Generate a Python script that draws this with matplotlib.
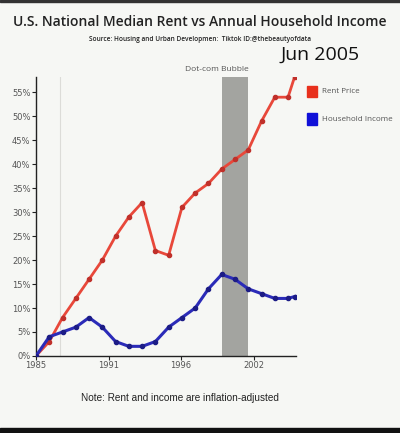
import matplotlib
matplotlib.use("Agg")
import matplotlib.pyplot as plt
from matplotlib.ticker import PercentFormatter

# DATOS
years = [1985, 1986, 1987, 1988, 1989, 1990, 1991, 1992, 1993, 1994,
         1995, 1996, 1997, 1998, 1999, 2000, 2001, 2002, 2003, 2004, 2004.5]
rent = [0, 3, 8, 12, 16, 20, 25, 29, 32, 22,
        21, 31, 34, 36, 39, 41, 43, 49, 54, 54, 58.3]
income = [0, 4, 5, 6, 8, 6, 3, 2, 2, 3,
          6, 8, 10, 14, 17, 16, 14, 13, 12, 12, 12.4]

tick_pos = [1985, 1990.5, 1995.9, 2001.4]
tick_labels = ["1985", "1991", "1996", "2002"]
bubble_start, bubble_end = 1999, 2001

bg = "#f6f7f4"
red_line, red_dot = "#e8483a", "#c0302a"
blue_line, blue_dot = "#2b2bb8", "#1c1c86"

fig = plt.figure(figsize=(4, 4.33), dpi=100, facecolor=bg)
ax = fig.add_axes([0.09, 0.178, 0.65, 0.644], facecolor=bg)

# franja gris de la burbuja
ax.axvspan(bubble_start, bubble_end, color="#a3a4a0", lw=0, zorder=1)
ax.axvline(1986.8, color="#dcdcd8", lw=0.8, zorder=0)

ax.plot(years, rent, color=red_line, lw=2, marker="o", ms=3,
        mfc=red_dot, mec=red_dot, zorder=3)
ax.plot(years, income, color=blue_line, lw=2.2, marker="o", ms=3,
        mfc=blue_dot, mec=blue_dot, zorder=3)

ax.set_xlim(1985, 2004.6)
ax.set_ylim(0, 58.2)
ax.set_yticks(range(0, 56, 5))
ax.yaxis.set_major_formatter(PercentFormatter(decimals=0))
ax.set_xticks(tick_pos)
ax.set_xticklabels(tick_labels)
ax.tick_params(labelsize=6, labelcolor="#555555", length=3, width=0.8,
               color="#222222", pad=1)
for s in ["top", "right"]:
    ax.spines[s].set_visible(False)
for s in ["left", "bottom"]:
    ax.spines[s].set_color("#222222")
    ax.spines[s].set_linewidth(1)

ax.text(1998.6, 59, "Dot-com Bubble",
        ha="center", va="bottom", fontsize=6, color="#555555",
        family="Open Sans")

# leyenda manual
fig.patches.append(plt.Rectangle((0.768, 0.776), 0.024, 0.026, color="#e8301c",
                                 transform=fig.transFigure))
fig.patches.append(plt.Rectangle((0.768, 0.712), 0.024, 0.026, color="#1010d8",
                                 transform=fig.transFigure))
fig.text(0.805, 0.789, "Rent Price", fontsize=5.8, color="#555555",
         va="center", family="Open Sans")
fig.text(0.805, 0.725, "Household Income", fontsize=5.8, color="#555555",
         va="center", family="Open Sans")

# titulos
fig.text(0.5, 0.95, "U.S. National Median Rent vs Annual Household Income",
         ha="center", va="center", fontsize=10, family="Open Sans",
         color="#222222", fontweight=600)
fig.text(0.5, 0.908, "Source: Housing and Urban Developmen:  Tiktok ID:@thebeautyofdata",
         ha="center", va="center", fontsize=4.7, family="Open Sans",
         color="#222222", fontweight=600)
fig.text(0.8, 0.873, "Jun 2005", ha="center", va="center", fontsize=14,
         family="Open Sans", color="#111111", fontweight=500)
fig.text(0.45, 0.08, "Note: Rent and income are inflation-adjusted",
         ha="center", va="center", fontsize=7.2, family="Liberation Sans",
         color="#222222")

# bordes negros del video
fig.patches.append(plt.Rectangle((0, 0), 1, 0.012, color="#111111",
                                 transform=fig.transFigure))
fig.patches.append(plt.Rectangle((0, 0.995), 1, 0.005, color="#333333",
                                 transform=fig.transFigure))

fig.savefig("out.png", dpi=100, facecolor=bg)
